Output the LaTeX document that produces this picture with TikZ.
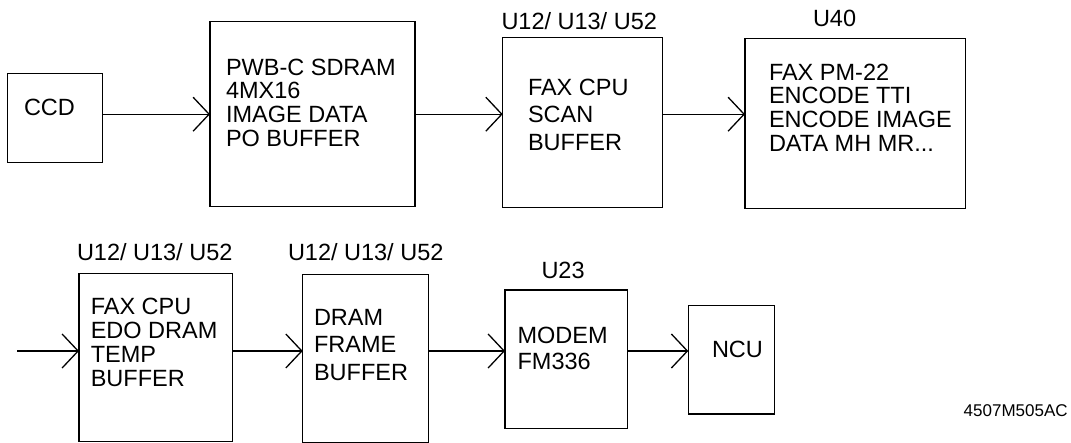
\documentclass[tikz,border=0pt]{standalone}
\usepackage{fontspec}
\setmainfont{Liberation Sans}
\usetikzlibrary{arrows.meta}
\tikzset{
  blk/.style={draw, line width=1.3pt, inner sep=0pt, outer sep=0pt},
  txt/.style={inner sep=0pt, outer sep=0pt, font=\fontsize{23.5}{24}\selectfont},
  lines/.style={inner sep=0pt, outer sep=0pt, align=left, anchor=north west,
                font=\fontsize{23.5}{#1}\selectfont},
  flow/.style={line width=1.3pt,
               -{Straight Barb[length=16pt,width=34pt,line width=1.3pt]}}
}
\newcommand{\firstline}{\rule{0pt}{18pt}}
\begin{document}
\begin{tikzpicture}[x=1pt,y=-1pt]
\useasboundingbox (0,0) rectangle (1071,442);

% blocks, top row
\node[blk, minimum width=95pt,    minimum height=89.4pt]  (ccd)   at (55.2,118)    {};
\node[blk, minimum width=205pt,   minimum height=185pt]   (pwb)   at (312.5,114.2) {};
\node[blk, minimum width=159.6pt, minimum height=169.6pt] (cpu)   at (582.5,122.5) {};
\node[blk, minimum width=220.7pt, minimum height=170pt]   (u40)   at (855.35,123.3){};
% blocks, bottom row (the two tall ones run off the lower edge)
\node[blk, minimum width=153.7pt, minimum height=168.2pt] (edo)   at (155.85,357.4){};
\node[blk, minimum width=125.6pt, minimum height=168.7pt] (dram)  at (365.5,358.65){};
\node[blk, minimum width=122.7pt, minimum height=138.3pt] (modem) at (566.35,359.15){};
\node[blk, minimum width=86pt,    minimum height=108.3pt] (ncu)   at (731.3,359.85){};

% block contents
\node[txt, anchor=base west] (ccdtxt) at (24,115) {CCD};
\node[lines=23.9] (pwbtxt) at (226,57)
  {\firstline PWB-C SDRAM\\4MX16\\IMAGE DATA\\PO BUFFER};
\node[lines=27.8] (cputxt) at (528,77)
  {\firstline FAX CPU\\SCAN\\BUFFER};
\node[lines=23.9] (u40txt) at (769,62)
  {\firstline FAX PM-22\\ENCODE TTI\\ENCODE IMAGE\\DATA MH MR...};
\node[lines=24.1] (edotxt) at (90.8,296.3)
  {\firstline FAX CPU\\EDO DRAM\\TEMP\\BUFFER};
\node[lines=27.5] (dramtxt) at (314,307)
  {\firstline DRAM\\FRAME\\BUFFER};
\node[lines=25.7] (modemtxt) at (517.6,325.3)
  {\firstline MODEM\\FM336};
\node[txt, anchor=base west] (ncutxt) at (712,357.7) {NCU};

% part numbers above the blocks
\node[txt, anchor=base west] (cpulab)   at (501.5,29.3)  {U12/ U13/ U52};
\node[txt, anchor=base west] (u40lab)   at (813,26)      {U40};
\node[txt, anchor=base west] (edolab)   at (77,260.7)    {U12/ U13/ U52};
\node[txt, anchor=base west] (dramlab)  at (288,260.7)   {U12/ U13/ U52};
\node[txt, anchor=base west] (modemlab) at (541.5,278.3) {U23};

% drawing number
\node[inner sep=0pt, anchor=base west, font=\fontsize{17}{20}\selectfont]
  (drawno) at (963.5,416.7) {4507M505AC};

% signal flow
\coordinate (feed) at (17.3,351);
\draw[flow] (ccd.east |- pwb.west) -- (pwb.west);
\draw[flow] (pwb.east) -- (cpu.west |- pwb.east);
\draw[flow] (cpu.east |- pwb.east) -- (u40.west |- pwb.east);
\draw[flow] (feed) -- (edo.west |- feed);
\draw[flow] (edo.east |- feed) -- (dram.west |- feed);
\draw[flow] (dram.east |- feed) -- (modem.west |- feed);
\draw[flow] (modem.east |- feed) -- (ncu.west |- feed);
\end{tikzpicture}
\end{document}
